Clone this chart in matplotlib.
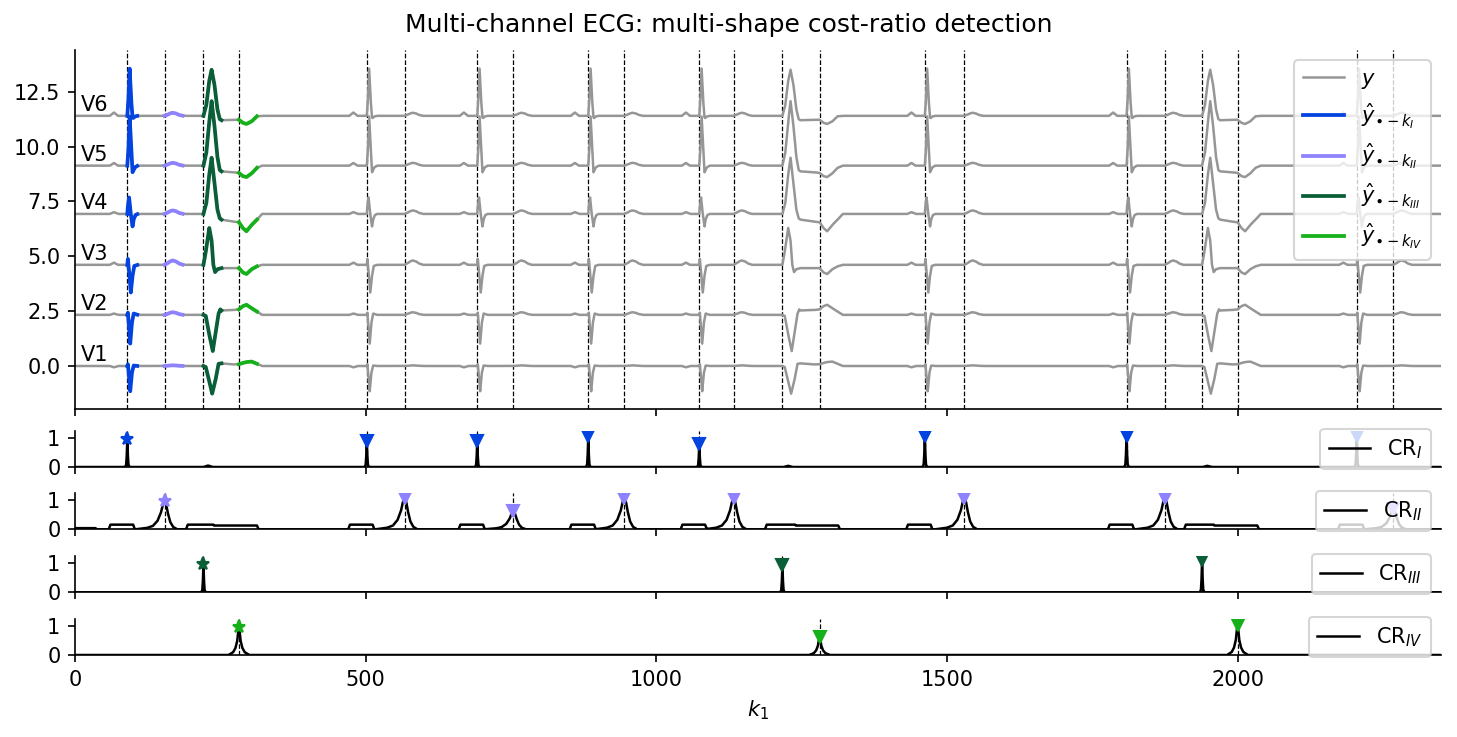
import numpy as np
import matplotlib
matplotlib.use("Agg")
import matplotlib.pyplot as plt

# ---------------- data ----------------
N = 2351
channels = ["V1", "V2", "V3", "V4", "V5", "V6"]
baselines = [0.0, 2.33, 4.61, 6.93, 9.13, 11.40]

# detections (k_1 positions) for the four shapes
det_I = [90, 502, 692, 883, 1074, 1462, 1809, 2205]      # normal QRS
det_II = [154, 567, 754, 945, 1133, 1530, 1875, 2268]    # normal T wave
det_III = [221, 1217, 1939]                              # ectopic QRS
det_IV = [282, 1281, 2000]                               # ectopic T wave

# cost-ratio peak values at the detections
cr_I_peaks = [0.97, 0.90, 0.90, 1.07, 0.78, 1.07, 1.07, 1.07]
cr_II_peaks = [0.98, 1.09, 0.63, 1.09, 1.09, 1.09, 1.09, 0.70]
cr_III_peaks = [0.97, 0.94, 1.11]
cr_IV_peaks = [0.96, 0.63, 1.04]

# small side bumps of CR_I
cr_I_bump_pos = [229, 1227, 1948]
cr_I_bump_val = [0.05, 0.04, 0.04]

# plateaus of CR_II (start, end, level)
cr_II_plat_start = [0, 61, 194, 238, 473, 663, 854, 1045, 1190, 1239, 1433, 1780, 1911, 1959, 2176]
cr_II_plat_end = [35, 100, 238, 313, 512, 702, 893, 1084, 1239, 1313, 1472, 1819, 1959, 2034, 2215]
cr_II_plat_level = [0.04, 0.16, 0.16, 0.13, 0.16, 0.16, 0.16, 0.16, 0.16, 0.13, 0.16, 0.16, 0.16, 0.13, 0.16]

# template lengths of the fitted shapes
len_I, len_II, len_III, len_IV = 17, 31, 31, 31

# ---- ECG waveform keypoints (offset from onset, value) per channel ----
# normal QRS (relative to det_I)
qrs_t = {
    "V1": [0, 1, 3, 5, 8, 11, 18],
    "V2": [0, 1, 3, 5, 8, 11, 18],
    "V3": [0, 1, 3, 6, 9, 12, 18],
    "V4": [0, 1, 3, 6, 9, 11, 14, 18],
    "V5": [0, 2, 4, 7, 9, 10, 13, 18],
    "V6": [0, 2, 4, 7, 9, 10, 13, 18],
}
qrs_v = {
    "V1": [0, 0.08, -0.5, -1.15, -0.3, 0.02, 0],
    "V2": [0, 0.10, -0.6, -1.31, -0.35, 0.06, 0],
    "V3": [0, 0.27, -0.3, -1.26, -0.5, -0.05, 0],
    "V4": [0, 0.35, 0.75, 0.0, -0.57, -0.25, -0.05, 0],
    "V5": [0, 0.8, 2.24, 0.7, -0.3, -0.25, -0.08, 0],
    "V6": [0, 0.8, 2.15, 0.6, -0.08, -0.1, -0.03, 0],
}
# P wave (relative to det_I) and T wave (relative to det_II)
p_t = [-30, -26, -23, -20, -16]
p_shape = [0, 0.6, 1.0, 0.6, 0]
p_amp = [-0.06, 0.06, 0.10, 0.08, 0.12, 0.15]
t_t = [0, 5, 10, 14, 20, 25, 32]
t_shape = [0, 0.35, 0.8, 1.0, 0.75, 0.3, 0]
t_amp = [0.03, 0.12, 0.2, 0.16, 0.13, 0.14]

# ectopic QRS (relative to det_III)
pvc_t = {
    "V1": [0, 4, 10, 15, 21, 26, 31],
    "V2": [0, 4, 10, 16, 21, 26, 29, 31],
    "V3": [0, 4, 10, 14, 17, 20, 24, 31],
    "V4": [0, 5, 10, 14, 19, 24, 28, 31],
    "V5": [0, 5, 10, 14, 19, 24, 28, 31],
    "V6": [0, 5, 10, 14, 19, 24, 28, 31],
}
pvc_v = {
    "V1": [0, -0.05, -0.7, -1.26, -0.6, 0.10, 0.12],
    "V2": [0, -0.05, -0.9, -1.65, -0.8, 0.05, 0.25, 0.20],
    "V3": [0, 0.6, 1.68, 1.1, 0.0, -0.33, -0.2, -0.15],
    "V4": [0, 0.5, 1.8, 2.56, 1.4, 0.2, -0.2, -0.26],
    "V5": [0, 0.6, 2.0, 2.94, 1.8, 0.4, -0.2, -0.26],
    "V6": [0, 0.5, 1.6, 2.1, 1.4, 0.3, -0.15, -0.2],
}
# ectopic T wave (relative to det_IV)
pvct_t = [-10, 0, 7, 13, 22, 31, 40]
pvct_v = {
    "V1": [0.07, 0.08, 0.14, 0.18, 0.20, 0.10, 0],
    "V2": [0.22, 0.25, 0.40, 0.46, 0.30, 0.15, 0],
    "V3": [-0.15, -0.15, -0.35, -0.42, -0.20, -0.07, 0],
    "V4": [-0.35, -0.38, -0.65, -0.79, -0.50, -0.26, 0],
    "V5": [-0.30, -0.33, -0.48, -0.52, -0.35, -0.10, 0],
    "V6": [-0.18, -0.18, -0.32, -0.37, -0.25, -0.02, 0],
}

# CR peak shapes (offset, relative height)
spike_t = [-4, -2, -1, 0, 1, 2, 4]
spike_s = [0, 0.08, 0.4, 1, 0.4, 0.08, 0]
crII_t = [-50, -30, -20, -12, -6, -3, 0, 3, 6, 10, 15, 22]
crII_s = [0, 0.05, 0.12, 0.3, 0.6, 0.85, 1, 0.85, 0.55, 0.25, 0.08, 0]
crIV_t = [-18, -10, -6, -3, -1.5, 0, 1.5, 3, 6, 10, 18]
crIV_s = [0, 0.1, 0.25, 0.5, 0.8, 1, 0.8, 0.5, 0.25, 0.1, 0]

col_y = "#969696"
col_I = "#0343df"
col_II = "#8e82fe"
col_III = "#0a5f38"
col_IV = "#15b01a"

# ---------------- build curves ----------------
k = np.arange(N)


def place(sig, tl, vl, at, scale=1.0, mode="add"):
    t = np.asarray(tl, float) + at
    m = (k >= t[0]) & (k <= t[-1])
    vals = np.interp(k[m], t, np.asarray(vl, float) * scale)
    if mode == "add":
        sig[m] += vals
    else:
        sig[m] = np.maximum(sig[m], vals)


ecg = {}
for ci, ch in enumerate(channels):
    s = np.zeros(N)
    for q in det_I:
        place(s, p_t, p_shape, q, p_amp[ci])
        place(s, qrs_t[ch], qrs_v[ch], q)
    for t0 in det_II:
        place(s, t_t, t_shape, t0, t_amp[ci])
    for p3, p4 in zip(det_III, det_IV):
        tt = list(np.asarray(pvc_t[ch]) + p3) + list(np.asarray(pvct_t) + p4)
        vv = list(pvc_v[ch]) + list(pvct_v[ch])
        place(s, tt, vv, 0)
    ecg[ch] = s + baselines[ci]

cr_I = np.zeros(N)
for d, h in zip(det_I, cr_I_peaks):
    place(cr_I, spike_t, spike_s, d, h, mode="max")
for d, h in zip(cr_I_bump_pos, cr_I_bump_val):
    place(cr_I, [-8, 0, 8], [0, 1, 0], d, h, mode="max")

cr_II = np.zeros(N)
for a, b, lv in zip(cr_II_plat_start, cr_II_plat_end, cr_II_plat_level):
    place(cr_II, [a - 3, a, b, b + 3], [0, 1, 1, 0], 0, lv, mode="max")
for d, h in zip(det_II, cr_II_peaks):
    place(cr_II, crII_t, crII_s, d, h, mode="max")

cr_III = np.zeros(N)
for d, h in zip(det_III, cr_III_peaks):
    place(cr_III, spike_t, spike_s, d, h, mode="max")

cr_IV = np.zeros(N)
for d, h in zip(det_IV, cr_IV_peaks):
    place(cr_IV, crIV_t, crIV_s, d, h, mode="max")

# ---------------- figure ----------------
W, H = 1457, 737
fig = plt.figure(figsize=(W / 150, H / 150), dpi=150)
left, right = 75, 1441
ax0 = fig.add_axes([left / W, 1 - 409 / H, (right - left) / W, 359 / H])
cr_bottoms = [467, 529.3, 592.3, 655]
cr_axes = [fig.add_axes([left / W, 1 - b / H, (right - left) / W, 36 / H]) for b in cr_bottoms]

all_det = det_I + det_II + det_III + det_IV
for d in all_det:
    ax0.axvline(d, color="black", ls="--", lw=0.6, zorder=1)

for ci, ch in enumerate(channels):
    ax0.plot(k, ecg[ch], color=col_y, lw=1.2, zorder=2, label="$y$" if ci == 0 else None)
    ax0.text(10, baselines[ci] + 0.5, ch, fontsize=10, ha="left", va="center")

segs = [(det_I[0], len_I, col_I, r"$\hat{y}_{\bullet-k_{I}}$"),
        (det_II[0], len_II, col_II, r"$\hat{y}_{\bullet-k_{II}}$"),
        (det_III[0], len_III, col_III, r"$\hat{y}_{\bullet-k_{III}}$"),
        (det_IV[0], len_IV, col_IV, r"$\hat{y}_{\bullet-k_{IV}}$")]
for start, ln, col, lab in segs:
    for ci, ch in enumerate(channels):
        sl = slice(start, start + ln + 1)
        ax0.plot(k[sl], ecg[ch][sl], color=col, lw=1.8, zorder=3,
                 label=lab if ci == 0 else None)

ax0.set_xlim(0, 2350)
ax0.set_ylim(-1.96, 14.4)
ax0.spines["top"].set_visible(False)
ax0.spines["right"].set_visible(False)
ax0.tick_params(labelbottom=False)
ax0.legend(loc="upper right", fontsize=10)

cr_data = [(cr_I, det_I, cr_I_peaks, col_I, r"CR$_{I}$"),
           (cr_II, det_II, cr_II_peaks, col_II, r"CR$_{II}$"),
           (cr_III, det_III, cr_III_peaks, col_III, r"CR$_{III}$"),
           (cr_IV, det_IV, cr_IV_peaks, col_IV, r"CR$_{IV}$")]
for i, (ax, (cr, dets, pk, col, lab)) in enumerate(zip(cr_axes, cr_data)):
    for d in dets:
        ax.axvline(d, color="black", ls="--", lw=0.6, zorder=1)
    ax.plot(k, cr, color="black", lw=1.2, zorder=2, label=lab)
    ax.plot([dets[0]], [pk[0]], marker="*", ls="none", color=col, ms=6.5, zorder=3)
    ax.plot(dets[1:], pk[1:], marker="v", ls="none", color=col, ms=5.5, zorder=3)
    ax.set_xlim(0, 2350)
    ax.set_ylim(0, 1.24)
    ax.set_yticks([0, 1])
    ax.set_xticks([0, 500, 1000, 1500, 2000])
    ax.spines["top"].set_visible(False)
    ax.spines["right"].set_visible(False)
    ax.legend(loc="center right", fontsize=10)
    if i < 3:
        ax.tick_params(labelbottom=False)
    else:
        ax.set_xlabel("$k_1$")

fig.suptitle("Multi-channel ECG: multi-shape cost-ratio detection", fontsize=12, y=0.982)
fig.savefig("out.png", dpi=150)
